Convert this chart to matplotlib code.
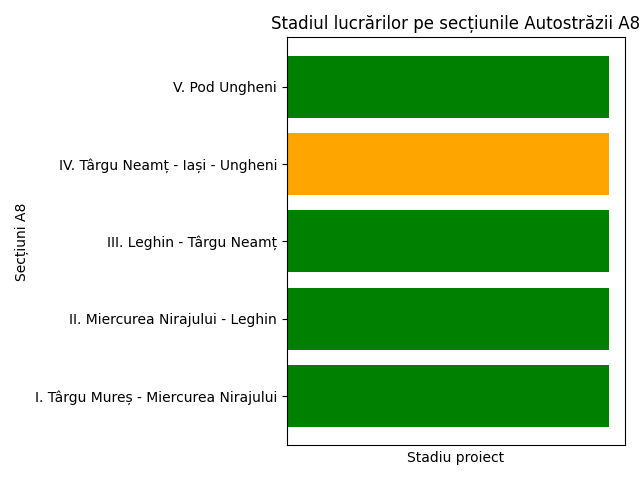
import matplotlib
matplotlib.use("Agg")
import matplotlib.pyplot as plt

sectiuni = [
    "I. Târgu Mureș - Miercurea Nirajului",
    "II. Miercurea Nirajului - Leghin",
    "III. Leghin - Târgu Neamț",
    "IV. Târgu Neamț - Iași - Ungheni",
    "V. Pod Ungheni",
]
stadiu = [1, 1, 1, 1, 1]
culori = ["green", "green", "green", "orange", "green"]

fig, ax = plt.subplots(figsize=(6.4, 4.8), dpi=100)
ax.barh(sectiuni, stadiu, color=culori)
ax.set_xticks([])
ax.set_xlabel("Stadiu proiect")
ax.set_ylabel("Secțiuni A8")
ax.set_title("Stadiul lucrărilor pe secțiunile Autostrăzii A8")
plt.tight_layout()
plt.savefig("out.png")
